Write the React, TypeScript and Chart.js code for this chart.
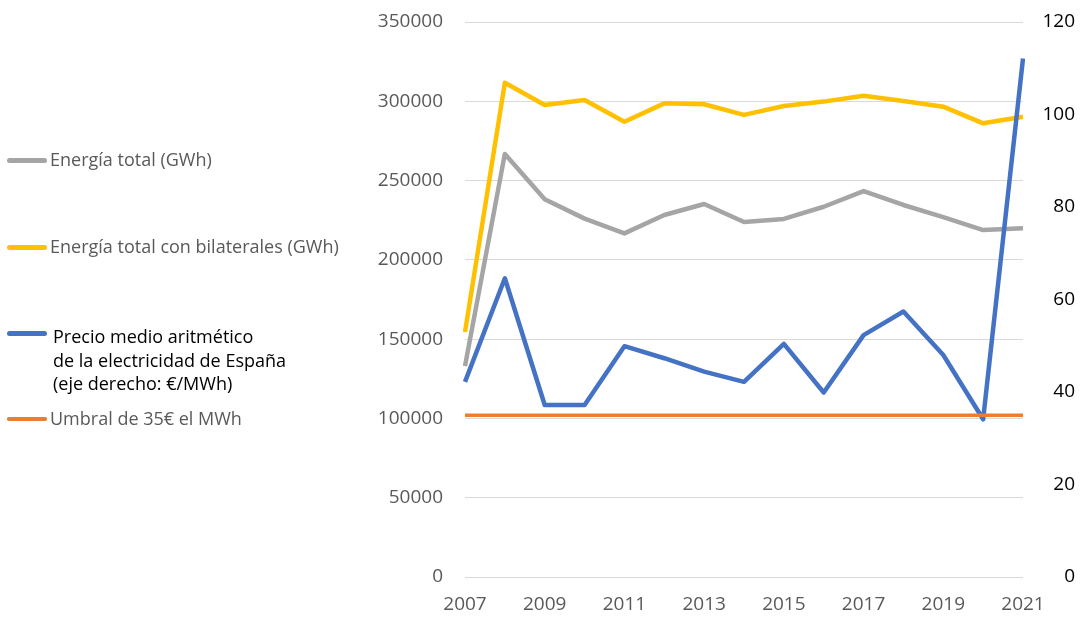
import React, { useEffect, useRef } from "react";
import { Chart, registerables } from "chart.js";

Chart.register(...registerables);

const years = ["2007", "2008", "2009", "2010", "2011", "2012", "2013", "2014", "2015", "2016", "2017", "2018", "2019", "2020", "2021"];
const energiaTotalGWh = [133000, 266800, 238200, 226000, 216700, 228300, 235200, 223900, 225800, 233500, 243400, 234600, 227000, 218800, 219900];
const energiaBilateralesGWh = [154500, 311700, 297700, 300800, 287100, 298700, 298100, 291400, 297000, 299800, 303500, 300200, 296600, 286100, 290300];
const precioMedioEurMWh = [42.2, 64.6, 37.2, 37.2, 49.9, 47.3, 44.4, 42.2, 50.4, 39.9, 52.3, 57.4, 48.0, 34.1, 112.1];
const umbral35 = [35, 35, 35, 35, 35, 35, 35, 35, 35, 35, 35, 35, 35, 35, 35];

const leftMin = 0;
const leftMax = 350000;
const leftStep = 50000;
const rightMin = 0;
const rightMax = 120;
const rightStep = 20;

const legendItems = [
  { label: ["Energía total (GWh)"], color: "#A5A5A5", y: 160, textColor: "#595959", thick: 5, textLeft: 50 },
  { label: ["Energía total con bilaterales (GWh)"], color: "#FFC000", y: 247, textColor: "#595959", thick: 5, textLeft: 50 },
  { label: ["Precio medio aritmético", "de la electricidad de España", "(eje derecho: €/MWh)"], color: "#4472C4", y: 333, textColor: "#000000", thick: 5, textLeft: 53 },
  { label: ["Umbral de 35€ el MWh"], color: "#ED7D31", y: 419, textColor: "#595959", thick: 3.5, textLeft: 50 },
];

const FONT = "'Open Sans', 'Noto Sans', sans-serif";

export default function App() {
  const canvasRef = useRef<HTMLCanvasElement | null>(null);

  useEffect(() => {
    if (!canvasRef.current) return;
    const chart = new Chart(canvasRef.current, {
      type: "line",
      data: {
        labels: years,
        datasets: [
          {
            label: "Energía total (GWh)",
            data: energiaTotalGWh,
            borderColor: "#A5A5A5",
            backgroundColor: "#A5A5A5",
            borderWidth: 4.5,
            pointRadius: 0,
            yAxisID: "y",
            order: 3,
            borderJoinStyle: "round",
          },
          {
            label: "Energía total con bilaterales (GWh)",
            data: energiaBilateralesGWh,
            borderColor: "#FFC000",
            backgroundColor: "#FFC000",
            borderWidth: 4.5,
            pointRadius: 0,
            yAxisID: "y",
            order: 2,
            borderJoinStyle: "round",
          },
          {
            label: "Precio medio aritmético de la electricidad de España (eje derecho: €/MWh)",
            data: precioMedioEurMWh,
            borderColor: "#4472C4",
            backgroundColor: "#4472C4",
            borderWidth: 4.5,
            pointRadius: 0,
            yAxisID: "y1",
            order: 1,
            borderJoinStyle: "round",
          },
          {
            label: "Umbral de 35€ el MWh",
            data: umbral35,
            borderColor: "#ED7D31",
            backgroundColor: "#ED7D31",
            borderWidth: 3.5,
            pointRadius: 0,
            yAxisID: "y1",
            order: 0,
          },
        ],
      },
      options: {
        responsive: false,
        animation: false,
        layout: { padding: { left: 0, right: 5, top: 22, bottom: 0 } },
        plugins: {
          legend: { display: false },
          tooltip: { enabled: false },
        },
        scales: {
          x: {
            offset: false,
            grid: { display: false, drawTicks: false },
            border: { display: false },
            ticks: {
              autoSkip: false,
              maxRotation: 0,
              padding: 16,
              color: "#595959",
              font: { family: FONT, size: 19 },
              callback: function (_v: any, index: number) {
                return index % 2 === 0 ? years[index] : "";
              },
            },
            afterFit: (scale: any) => {
              scale.height = 40;
              scale.paddingLeft = 0;
              scale.paddingRight = 0;
            },
          },
          y: {
            position: "left",
            min: leftMin,
            max: leftMax,
            grid: { color: "#D9D9D9", lineWidth: 1, drawTicks: false },
            border: { display: false },
            ticks: {
              stepSize: leftStep,
              padding: 22,
              color: "#595959",
              font: { family: FONT, size: 19 },
              callback: (v: any) => String(v),
            },
            afterFit: (scale: any) => {
              scale.width = 465;
              scale.paddingTop = 0;
              scale.paddingBottom = 0;
            },
          },
          y1: {
            position: "right",
            min: rightMin,
            max: rightMax,
            grid: { display: false, drawTicks: false },
            border: { display: false },
            ticks: {
              stepSize: rightStep,
              crossAlign: "far",
              padding: 10,
              color: "#000000",
              font: { family: FONT, size: 19 },
              callback: (v: any) => String(v),
            },
            afterFit: (scale: any) => {
              scale.width = 52;
              scale.paddingTop = 0;
              scale.paddingBottom = 0;
            },
          },
        },
      },
    } as any);
    return () => chart.destroy();
  }, []);

  return (
    <div style={{ position: "absolute", left: 0, top: 0, width: 1080, height: 617, background: "#ffffff", overflow: "hidden" }}>
      <canvas ref={canvasRef} width={1080} height={617} style={{ position: "absolute", left: 0, top: 0, display: "block" }} />
      {legendItems.map((it, i) => (
        <React.Fragment key={i}>
          <div
            style={{
              position: "absolute",
              left: 7,
              top: it.y - it.thick / 2,
              width: 40,
              height: it.thick,
              background: it.color,
              borderRadius: it.thick / 2,
            }}
          />
          <div
            style={{
              position: "absolute",
              left: it.textLeft,
              top: it.y - 12 + (it.label.length > 1 ? 4 : 0),
              fontFamily: FONT,
              fontSize: 18,
              lineHeight: "23.5px",
              color: it.textColor,
              whiteSpace: "nowrap",
            }}
          >
            {it.label.map((l, j) => (
              <div key={j}>{l}</div>
            ))}
          </div>
        </React.Fragment>
      ))}
    </div>
  );
}
